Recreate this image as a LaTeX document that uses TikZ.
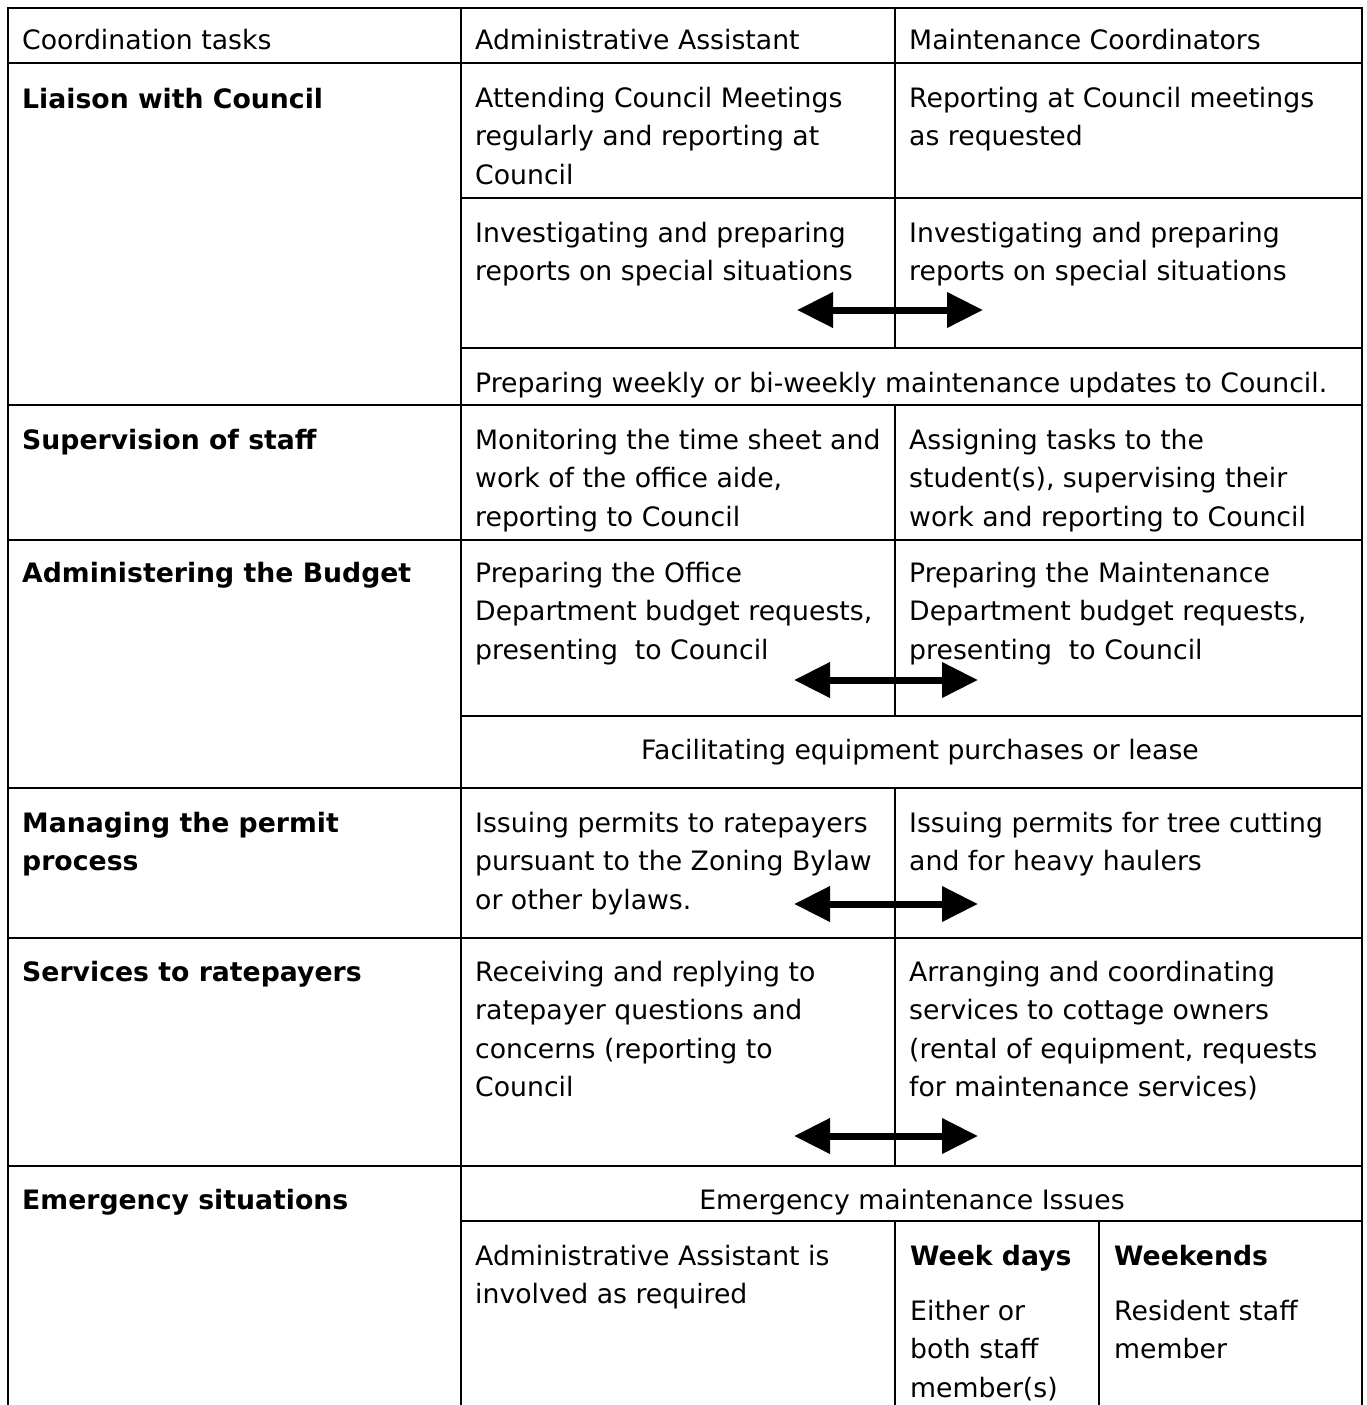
\documentclass[tikz,border=0pt]{standalone}
\usepackage{fontspec}
\setmainfont{DejaVu Sans}
\usetikzlibrary{arrows.meta}
\newcommand{\celltext}[1]{\parbox[t]{430pt}{\raggedright #1}}
\begin{document}
\begin{tikzpicture}[x=1pt,y=-1pt,
  txt/.style={anchor=base west,inner sep=0pt,font=\fontsize{26.7}{38.5}\selectfont},
  ctxt/.style={anchor=base,inner sep=0pt,font=\fontsize{26.7}{38.5}\selectfont},
  btxt/.style={txt,font=\fontsize{26.7}{38.5}\selectfont\bfseries},
  rule/.style={line width=2.7pt,line cap=rect},
  thinrule/.style={line width=2pt},
  dbl/.style={line width=7pt,{Triangle[length=36pt,width=34pt]}-{Triangle[length=36pt,width=34pt]}}]
\useasboundingbox[fill=white] (0,0) rectangle (1366,1405);
% outer frame (open at bottom)
\draw[rule] (8,1405) -- (8,8) -- (1362,8) -- (1362,1405);
% column lines
\draw[rule] (461,8) -- (461,1405);
\draw[thinrule] (895,8) -- (895,348);
\draw[thinrule] (895,405) -- (895,716);
\draw[thinrule] (895,788) -- (895,1166);
\draw[thinrule] (895,1221) -- (895,1405);
\draw[thinrule] (1099,1221) -- (1099,1405);
% row lines
\draw[rule] (8,63) -- (1362,63);
\draw[rule] (461,198) -- (1362,198);
\draw[rule] (461,348) -- (1362,348);
\draw[rule] (8,405) -- (1362,405);
\draw[rule] (8,540) -- (1362,540);
\draw[rule] (461,716) -- (1362,716);
\draw[rule] (8,788) -- (1362,788);
\draw[rule] (8,938) -- (1362,938);
\draw[rule] (8,1166) -- (1362,1166);
\draw[rule] (461,1221) -- (1362,1221);
% header
\node[txt] (h1) at (22,49) {Coordination tasks};
\node[txt] (h2) at (475,49) {Administrative Assistant};
\node[txt] (h3) at (909,49) {Maintenance Coordinators};
% Liaison
\node[btxt] (t1) at (22,108) {Liaison with Council};
\node[txt] (a1) at (475,107) {\celltext{Attending Council Meetings\\regularly and reporting at\\Council}};
\node[txt] (m1) at (909,107) {\celltext{Reporting at Council meetings\\as requested}};
\node[txt] (a2) at (475,242) {\celltext{Investigating and preparing\\reports on special situations}};
\node[txt] (m2) at (909,242) {\celltext{Investigating and preparing\\reports on special situations}};
\node[txt] (w1) at (475,392) {Preparing weekly or bi-weekly maintenance updates to Council.};
% Supervision
\node[btxt] (t2) at (22,449) {Supervision of staff};
\node[txt] (a3) at (475,449) {\celltext{Monitoring the time sheet and\\work of the office aide,\\reporting to Council}};
\node[txt] (m3) at (909,449) {\celltext{Assigning tasks to the\\student(s), supervising their\\work and reporting to Council}};
% Budget
\node[btxt] (t3) at (22,582) {Administering the Budget};
\node[txt] (a4) at (475,582) {\celltext{Preparing the Office\\Department budget requests,\\presenting\ \ to Council}};
\node[txt] (m4) at (909,582) {\celltext{Preparing the Maintenance\\Department budget requests,\\presenting\ \ to Council}};
\node[ctxt] (f1) at (920,759) {Facilitating equipment purchases or lease};
% Permit
\node[btxt] (t4) at (22,832) {\celltext{Managing the permit\\process}};
\node[txt] (a5) at (475,832) {\celltext{Issuing permits to ratepayers\\pursuant to the Zoning Bylaw\\or other bylaws.}};
\node[txt] (m5) at (909,832) {\celltext{Issuing permits for tree cutting\\and for heavy haulers}};
% Services
\node[btxt] (t5) at (22,981) {Services to ratepayers};
\node[txt] (a6) at (475,981) {\celltext{Receiving and replying to\\ratepayer questions and\\concerns (reporting to\\Council}};
\node[txt] (m6) at (909,981) {\celltext{Arranging and coordinating\\services to cottage owners\\(rental of equipment, requests\\for maintenance services)}};
% Emergency
\node[btxt] (t6) at (22,1209) {Emergency situations};
\node[ctxt] (e1) at (912,1209) {Emergency maintenance Issues};
\node[txt] (a7) at (475,1265) {\celltext{Administrative Assistant is\\involved as required}};
\node[btxt] (wd) at (910,1265) {Week days};
\node[txt] (wd2) at (910,1320) {\celltext{Either or\\both staff\\member(s)}};
\node[btxt] (we) at (1114,1265) {Weekends};
\node[txt] (we2) at (1114,1320) {\celltext{Resident staff\\member}};
% arrows
\coordinate (r1l) at (797,310);
\coordinate (r1r) at (983,310);
\coordinate (r2l) at (794,680);
\coordinate (r2r) at (978,680);
\coordinate (r3l) at (794,904);
\coordinate (r3r) at (978,904);
\coordinate (r4l) at (794,1136);
\coordinate (r4r) at (978,1136);
\draw[dbl] (r1l) -- (r1r);
\draw[dbl] (r2l) -- (r2r);
\draw[dbl] (r3l) -- (r3r);
\draw[dbl] (r4l) -- (r4r);
\end{tikzpicture}
\end{document}
